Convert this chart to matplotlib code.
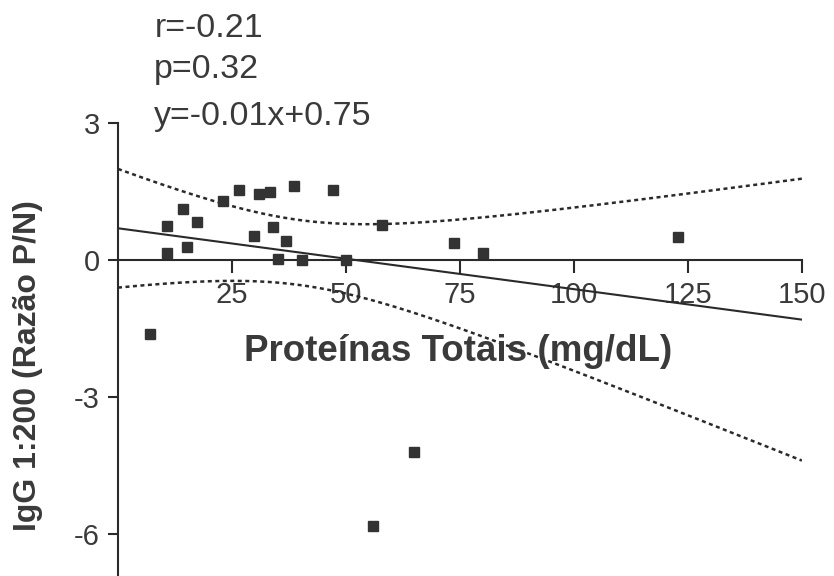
import numpy as np
import matplotlib
matplotlib.use("Agg")
import matplotlib.pyplot as plt

plt.rcParams['font.family'] = ['Liberation Sans', 'DejaVu Sans']

# Data
proteinas = [10.8, 10.7, 14.2, 15.1, 17.4, 23.0, 26.6, 29.8, 30.9, 33.4, 34.1, 36.9,
             35.2, 38.7, 40.4, 47.1, 50.0, 58.0, 73.7, 80.0, 122.9, 7.1, 64.9, 55.9]
igg = [0.76, 0.16, 1.13, 0.30, 0.85, 1.29, 1.55, 0.54, 1.46, 1.49, 0.74, 0.43,
       0.04, 1.62, 0.00, 1.55, 0.00, 0.77, 0.39, 0.17, 0.52, -1.62, -4.21, -5.83]
xticks = [25, 50, 75, 100, 125, 150]
yticks = [-6, -3, 0, 3]
stats_lines = ["r=-0.21", "p=0.32", "y=-0.01x+0.75"]

x = np.array(proteinas)
y = np.array(igg)
n = len(x)
slope, intercept = np.polyfit(x, y, 1)
resid = y - (slope * x + intercept)
s = np.sqrt(np.sum(resid ** 2) / (n - 2))
xbar = x.mean()
sxx = np.sum((x - xbar) ** 2)
t = 1.97
xx = np.linspace(0, 150, 300)
yy = slope * xx + intercept
hw = t * s * np.sqrt(1 / n + (xx - xbar) ** 2 / sxx)

fig = plt.figure(figsize=(8.34, 5.76), dpi=100)
ax = fig.add_axes([0.1415, 0.0, 0.82, 0.7856])
col = '#2a2a2a'

ax.plot(xx, yy, color=col, lw=1.5, zorder=3)
ax.plot(xx, yy + hw, color=col, lw=1.8, ls=(0, (1.6, 1.4)), zorder=3)
ax.plot(xx, yy - hw, color=col, lw=1.8, ls=(0, (1.6, 1.4)), zorder=3)
ax.plot(x, y, 's', color='#333333', ms=7, zorder=4, clip_on=False)

ax.set_xlim(0, 150)
ax.set_ylim(-6.92, 3)
ax.spines['top'].set_visible(False)
ax.spines['right'].set_visible(False)
ax.spines['bottom'].set_position(('data', 0))
for sp in ['left', 'bottom']:
    ax.spines[sp].set_linewidth(1.5)
    ax.spines[sp].set_color(col)
ax.set_xticks(xticks)
ax.set_yticks(yticks)
ax.set_yticklabels([str(v) for v in yticks])
ax.tick_params(axis='x', direction='out', length=9, width=1.5, pad=6,
               labelsize=21, colors=col, labelcolor='#3a3a3a')
ax.tick_params(axis='y', direction='out', length=7.5, width=1.5, pad=5.5,
               labelsize=21, colors=col, labelcolor='#3a3a3a')

fig.text(0.549, 0.389, "Proteínas Totais (mg/dL)", ha='center', va='center',
         fontsize=26.5, fontweight='bold', color='#3a3a3a')
fig.text(0.034, 0.366, "IgG 1:200 (Razão P/N)", ha='center', va='center',
         rotation=90, fontsize=23, fontweight='bold', color='#3a3a3a')

stat_y = [0.936, 0.865, 0.783]
for line, yy_ in zip(stats_lines, stat_y):
    fig.text(0.185, yy_, line, ha='left', va='baseline',
             fontsize=24.5, color='#3a3a3a')

fig.savefig("out.png", dpi=100)
